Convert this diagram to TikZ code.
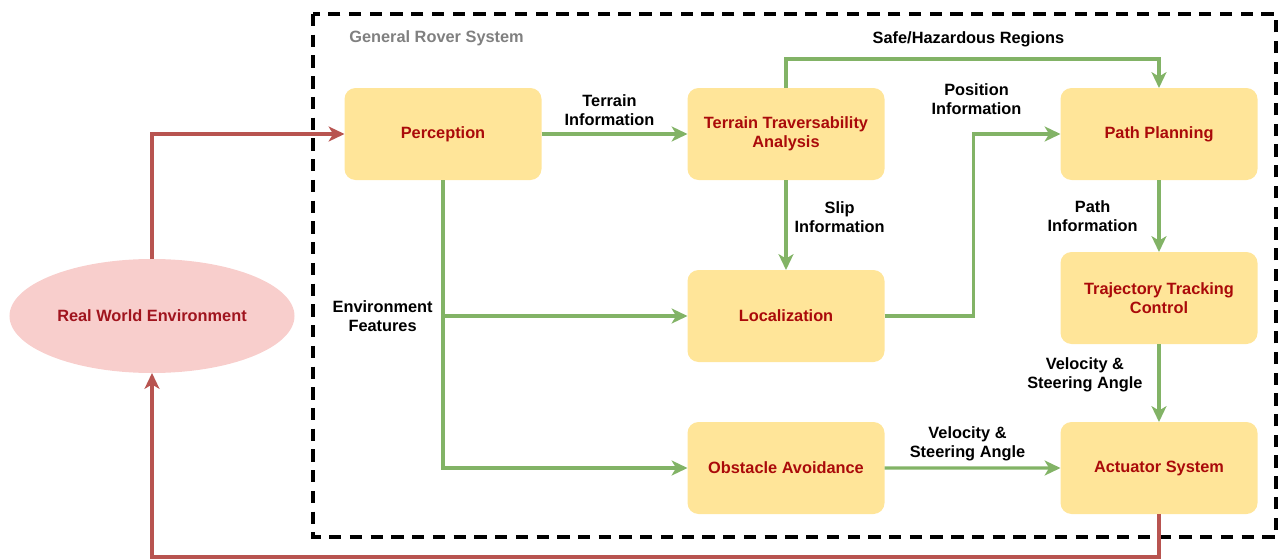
\documentclass[tikz,border=0pt]{standalone}
\usepackage{fontspec}
\setmainfont{Liberation Sans}
\usepackage{xcolor}
\usepackage{tikz}
\usetikzlibrary{arrows.meta,positioning,shapes.geometric,calc}
\definecolor{boxfill}{HTML}{FFE599}
\definecolor{boxtext}{HTML}{AA0A0A}
\definecolor{envfill}{HTML}{F8CECC}
\definecolor{envtext}{HTML}{A0141E}
\definecolor{flowgreen}{HTML}{82B366}
\definecolor{flowred}{HTML}{B85450}
\definecolor{titlegray}{HTML}{808080}
\tikzset{
  txt/.style={font=\fontsize{9.3}{10.6}\selectfont\bfseries, align=center},
  block/.style={txt, fill=boxfill, text=boxtext, rounded corners=0.22cm, minimum width=3.94cm, minimum height=1.84cm, inner sep=0pt, outer sep=0pt},
  env/.style={txt, ellipse, fill=envfill, text=envtext, minimum width=5.7cm, minimum height=2.28cm, inner sep=0pt, outer sep=0pt},
  lbl/.style={txt, text=black, inner sep=1pt},
  title/.style={txt, text=titlegray, inner sep=0pt},
  frame/.style={draw=black, line width=1.8pt, dash pattern=on 7pt off 4.8pt},
  garrow/.style={-{Stealth[length=9pt, width=8.5pt, inset=2.5pt]}, draw=flowgreen, line width=1.9pt},
  rarrow/.style={-{Stealth[length=9pt, width=8.5pt, inset=2.5pt]}, draw=flowred, line width=1.9pt}
}

\begin{document}
\begin{tikzpicture}
    \useasboundingbox (0,0) rectangle (25.62,-11.2);

    % System frame
    \draw[frame] (6.26,-0.28) rectangle (25.52,-10.74);
    \node[title, anchor=west] (sysname) at (6.98,-0.76) {General Rover System};

    % Nodes
    \node[block] (percep) at (8.86,-2.68) {Perception};
    \node[block, right=2.92cm of percep] (terrain) {Terrain Traversability\\ Analysis};
    \node[block, right=3.52cm of terrain] (plan) {Path Planning};
    \node[block, below=1.8cm of terrain] (local) {Localization};
    \node[block, below=1.2cm of local] (obst) {Obstacle Avoidance};
    \node[block, below=1.44cm of plan] (track) {Trajectory Tracking\\ Control};
    \node[block, below=1.56cm of track] (act) {Actuator System};
    \node[env] (world) at (3.04,-6.32) {Real World Environment};

    % Arrows
    \draw[garrow] (percep) -- node[lbl, above=3pt, xshift=-0.1cm] (tinfo) {Terrain\\ Information} (terrain);
    \draw[garrow] (terrain.north) -- ++(0,0.58) -| node[lbl, pos=0.25, above=5pt, xshift=-0.08cm] (safe) {Safe/Hazardous Regions} (plan.north);
    \draw[garrow] (terrain) -- node[lbl, right=3pt, yshift=0.16cm] (slip) {Slip\\ Information} (local);
    \draw[garrow] (local.east) -- ++(1.78,0) |- node[lbl, pos=0.5, above=9pt, xshift=0.06cm] (posinfo) {Position\\ Information} (plan.west);
    \draw[garrow] (plan) -- node[lbl, left=0.36cm] (pinfo) {Path\\ Information} (track);
    \draw[garrow] (track) -- node[lbl, left=0.26cm, yshift=0.16cm] (vel1) {Velocity \&\\ Steering Angle} (act);
    \draw[garrow] (obst) -- node[lbl, above=2pt, xshift=-0.1cm] (vel2) {Velocity \&\\ Steering Angle} (act);
    \draw[garrow] (percep.south) |- (obst.west);
    \draw[garrow] (percep.south |- local.west) node[lbl, left=4pt] (envfeat) {Environment\\ Features} -- (local.west);

    % Loop through the real world
    \draw[rarrow] (world.north) |- (percep.west);
    \draw[rarrow] (act.south) -- ++(0,-0.86) -| (world.south);
  \end{tikzpicture}
\end{document}
